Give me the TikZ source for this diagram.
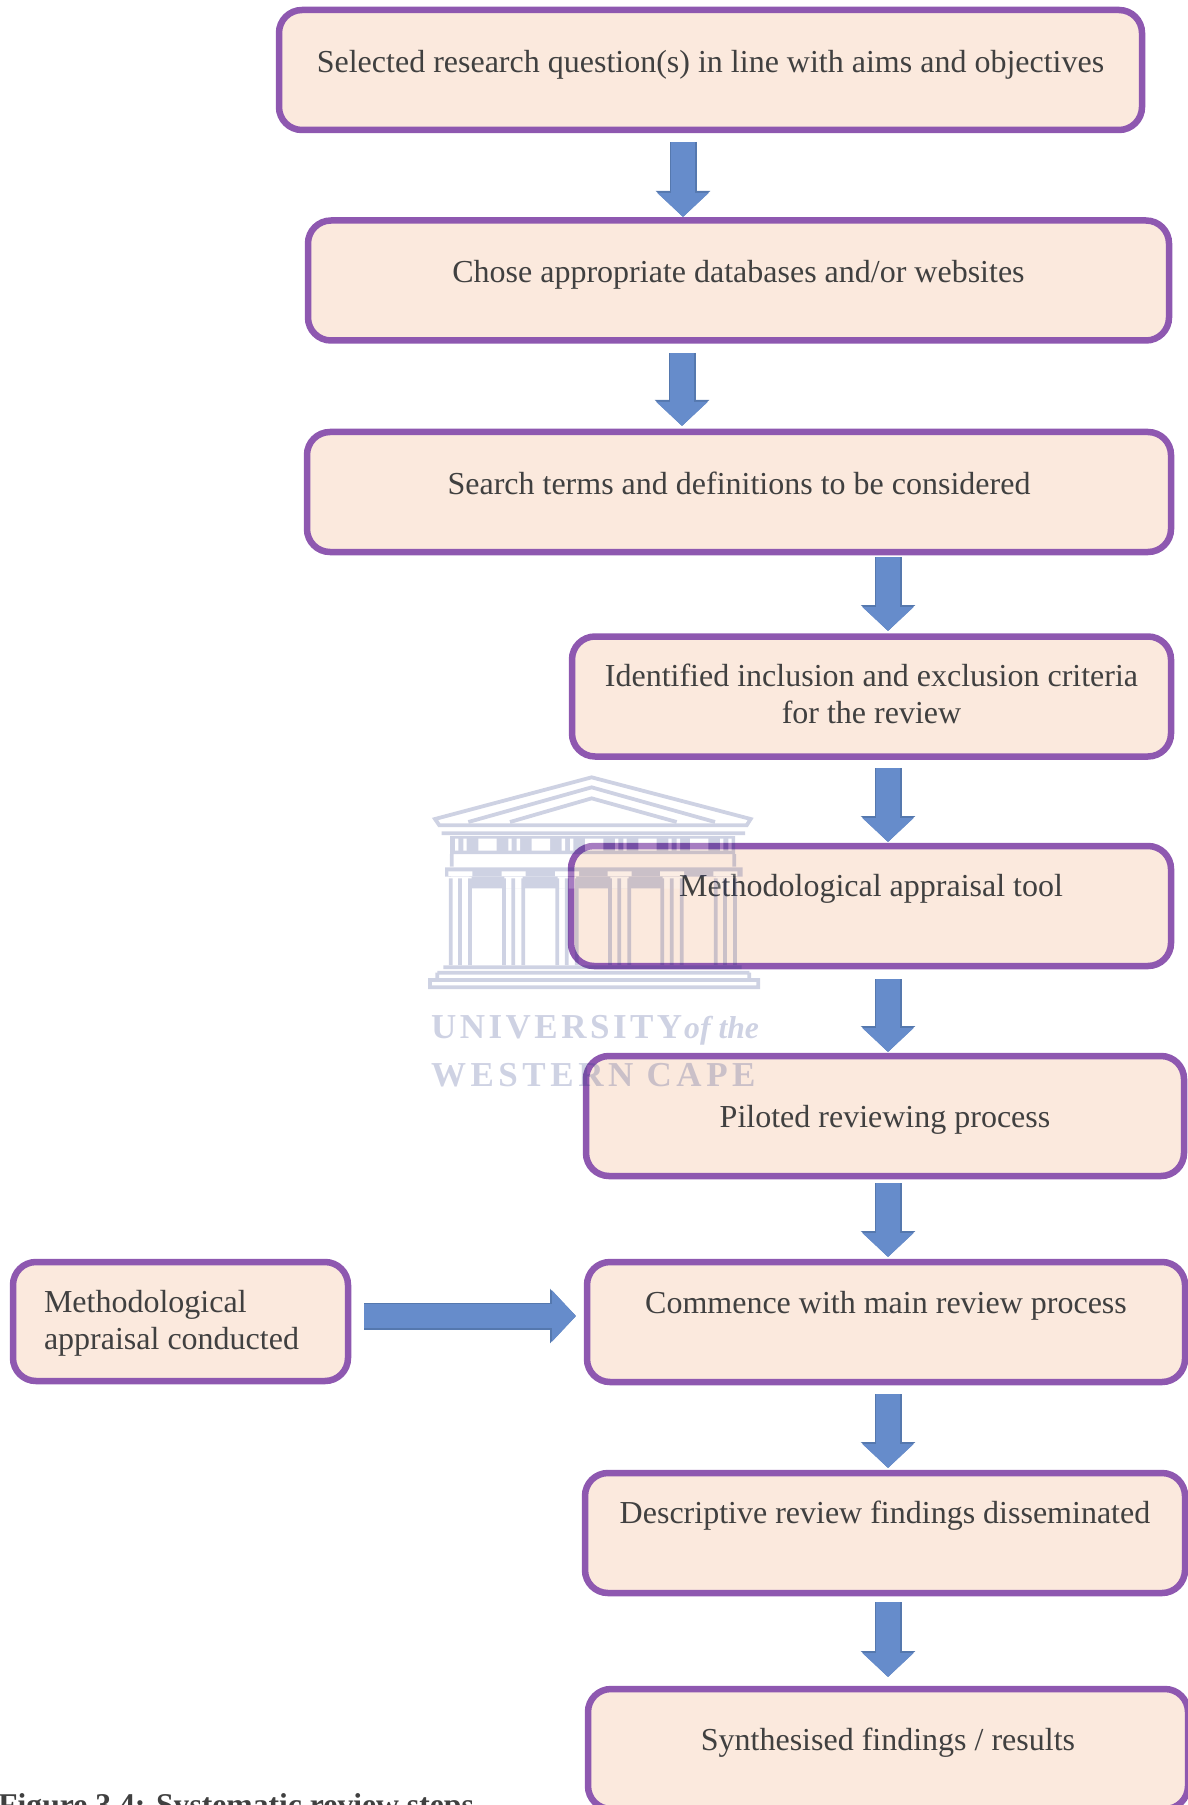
\documentclass[tikz,border=0pt]{standalone}
\usepackage{fontspec}
\setmainfont{Liberation Serif}
\newfontfamily\crestfont[LetterSpace=10]{Liberation Serif}
\newfontfamily\crestwidefont[LetterSpace=13]{Liberation Serif}
\usetikzlibrary{arrows.meta}
\newcommand{\px}{.6pt}
\definecolor{boxfill}{HTML}{FBE9DD}
\definecolor{boxedge}{HTML}{8E58B0}
\definecolor{flowfill}{HTML}{668CCB}
\definecolor{flowedge}{HTML}{5578AE}
\definecolor{crest}{HTML}{20307F}
\definecolor{bodytext}{HTML}{404040}
\tikzset{
  stepbox/.style={draw=boxedge, fill=boxfill, line width=6.5*\px, rounded corners=23*\px,
    outer sep=0pt, inner sep=0pt, align=center, text=bodytext, font=\fontsize{19.2}{22.2}\selectfont},
  boxsize/.style 2 args={minimum width=#1*\px, minimum height=#2*\px},
  lift/.style={text depth=#1*\px},
  flow/.style={line width=24.5*\px, draw=flowfill, -{Triangle[width=50*\px,length=24*\px]},
    preaction={draw=flowedge, line width=27*\px, -{Triangle[width=53*\px,length=26*\px]}}},
  crestline/.style={draw=crest, line width=3.8*\px},
}
\begin{document}
\begin{tikzpicture}[x=\px, y=-\px]
   \useasboundingbox (0,0) rectangle (1188,1805);

   \node[stepbox, boxsize={863}{120}, lift=18] (question) at (710.5,70) {Selected research question(s) in line with aims and objectives};
   \node[stepbox, boxsize={861}{120}, lift=18] (databases) at (738.5,280.5) {Chose appropriate databases and/or websites};
   \node[stepbox, boxsize={864}{120}, lift=18] (terms) at (739,492) {Search terms and definitions to be considered};
   \node[stepbox, boxsize={599}{120}, lift=6] (criteria) at (871.5,696.5) {Identified inclusion and exclusion criteria\\for the review};
   \node[stepbox, boxsize={600}{120}, lift=42] (tool) at (871,906) {Methodological appraisal tool};
   \node[stepbox, boxsize={598}{120}, lift=0] (pilot) at (885,1116) {Piloted reviewing process};
   \node[stepbox, boxsize={598}{120}, lift=40] (main) at (886,1322) {Commence with main review process};
   \node[stepbox, boxsize={600}{120}, lift=42] (descriptive) at (885,1533) {Descriptive review findings disseminated};
   \node[stepbox, boxsize={600}{120}, lift=20] (results) at (888,1749) {Synthesised findings / results};
   \node[stepbox, boxsize={335}{119}, align=flush left, text width=273*\px, lift=40] (conducted) at (180.5,1321.5) {Methodological\\appraisal conducted};

   \foreach \a/\b/\x/\s/\e in {question/databases/683/12/3.5, databases/terms/682/12.5/6, terms/criteria/888/5/5.5,
     criteria/tool/888/11.5/4, tool/pilot/888/13/4, pilot/main/888/7/5, main/descriptive/888/12/5, descriptive/results/888/9/12}
   \draw[flow, shorten <=\s*\px, shorten >=\e*\px] (\x,0 |- \a.south) -- (\x,0 |- \b.north);
   \draw[flow, shorten <=16*\px, shorten >=11*\px] (conducted.east |- 0,1316) -- (main.west |- 0,1316);

   \node[anchor=base west, inner sep=0pt, text=bodytext, font=\fontsize{19}{22}\selectfont\bfseries] (caption) at (-2,1815) {Figure 3.4: Systematic review steps};

   \begin{scope}[shift={(400,750)}, x=\px/3, y=-\px/3, transparency group, opacity=.22]
      \draw[crestline] (105,207) -- (575,82) -- (1052,207) -- (1040,226) -- (118,226) -- cycle;
      \draw[crestline] (205,216) -- (575,112) -- (945,216);
      \draw[crestline] (330,216) -- (575,145) -- (830,216);
      \draw[crestline] (125,250) -- (1035,250);
      \fill[crest] (150,258) rectangle (1005,312);
      \foreach \w in {235,395,555,715,870}
      \fill[white] (\w,266) rectangle ++(55,36);
      \foreach \w in {165,190,325,350,485,510,645,670,805,830,960,985}
      \fill[white] (\w,266) rectangle ++(10,36);
      \draw[crestline] (155,312) -- (155,350) (1003,312) -- (1003,350);
      \fill[crest] (135,352) rectangle (1028,380);
      \fill[crest] (215,380) rectangle (790,415);
      \foreach \w in {150,310,470,628,785,945}
      {
      \fill[white] (\w-5,364) rectangle ++(72,14);
      \fill[white] (\w+3,380) rectangle ++(55,36);
      \draw[crestline] (\w+2,385) -- (\w+2,645) (\w+30,385) -- (\w+30,645) (\w+60,385) -- (\w+60,645);
      }
      \draw[crestline] (130,652) -- (1025,652);
      \draw[crestline] (112,668) -- (1048,668) (112,668) -- (112,685) (1048,668) -- (1048,685);
      \draw[crestline] (90,690) rectangle (1075,712);
      \node[anchor=base west, inner sep=0pt, text=crest, font=\fontsize{21}{21}\selectfont\bfseries\crestfont] (university) at (92,865) {UNIVERSITY};
      \node[anchor=base east, inner sep=0pt, text=crest, font=\fontsize{19}{21}\selectfont\itshape\bfseries] (ofthe) at (1078,865) {of the};
      \node[anchor=base west, inner sep=0pt, text=crest, font=\fontsize{21}{21}\selectfont\bfseries\crestwidefont] (western) at (92,1010) {WESTERN CAPE};
   \end{scope}

\end{tikzpicture}
\end{document}
